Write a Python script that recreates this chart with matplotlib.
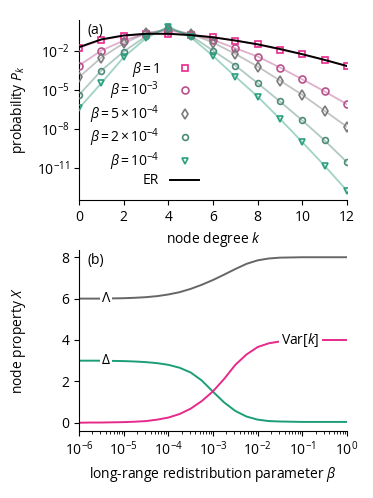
import numpy as np
import matplotlib
matplotlib.use('Agg')
import matplotlib.pyplot as plt
from matplotlib.ticker import FixedLocator, NullLocator, LogLocator

plt.rcParams['font.family'] = ['Open Sans', 'DejaVu Sans']
plt.rcParams['font.size'] = 10
plt.rcParams['mathtext.fontset'] = 'custom'
plt.rcParams['mathtext.rm'] = 'Open Sans'
plt.rcParams['mathtext.it'] = 'Open Sans:italic'
plt.rcParams['mathtext.bf'] = 'Open Sans:bold'

###########################################
# Panel (a): degree distributions, log10 of P_k
k = np.arange(13)
logp_b1 = [-1.78, -1.18, -0.86, -0.70, -0.72, -0.78, -0.96, -1.23, -1.53, -1.92, -2.30, -2.72, -3.20]
logp_b1e3 = [-3.15, -2.00, -1.23, -0.67, -0.46, -0.72, -1.18, -1.82, -2.46, -3.31, -4.21, -5.15, -6.13]
logp_b5e4 = [-4.05, -2.54, -1.44, -0.67, -0.36, -0.72, -1.38, -2.26, -3.23, -4.31, -5.41, -6.64, -7.87]
logp_b2e4 = [-5.41, -3.54, -2.08, -0.90, -0.26, -0.85, -2.00, -3.15, -4.51, -5.92, -7.38, -8.92, -10.59]
logp_b1e4 = [-6.44, -4.51, -2.51, -1.05, -0.15, -0.97, -2.41, -4.00, -5.54, -7.26, -9.05, -10.87, -12.79]
logp_er = [-1.74, -1.14, -0.84, -0.71, -0.71, -0.81, -0.98, -1.23, -1.52, -1.88, -2.28, -2.72, -3.19]

series_labels = [r'$\beta\,$=$\,$1', r'$\beta\,$=$\,$10$^{-3}$', r'$\beta\,$=$\,$5$\,$×$\,$10$^{-4}$',
                 r'$\beta\,$=$\,$2$\,$×$\,$10$^{-4}$', r'$\beta\,$=$\,$10$^{-4}$']
series_colors = ['#e7298a', '#b9508c', '#7a7a7a', '#4f8a78', '#2ba07f']
series_markers = ['s', 'o', 'd', 'o', 'v']
series_msize = [4.7, 5.0, 5.5, 4.2, 5.0]

###########################################
# Panel (b): node properties vs beta, read at quarter decades
log_beta = [-6, -5.75, -5.5, -5.25, -5, -4.75, -4.5, -4.25, -4, -3.75, -3.5, -3.25, -3,
            -2.75, -2.5, -2.25, -2, -1.75, -1.5, -1.25, -1, -0.75, -0.5, -0.25, 0]
lam = [6.0, 6.0, 6.0, 6.01, 6.02, 6.04, 6.07, 6.12, 6.20, 6.31, 6.47, 6.67, 6.90,
       7.16, 7.43, 7.68, 7.85, 7.94, 7.98, 7.99, 8.0, 8.0, 8.0, 8.0, 8.0]
delta = [3.0, 3.0, 3.0, 2.99, 2.98, 2.96, 2.93, 2.88, 2.80, 2.66, 2.43, 2.04, 1.50,
         0.98, 0.57, 0.30, 0.15, 0.08, 0.06, 0.05, 0.04, 0.04, 0.04, 0.04, 0.04]
var_k = [0.0, 0.01, 0.01, 0.02, 0.03, 0.05, 0.08, 0.15, 0.25, 0.42, 0.68, 1.05, 1.52,
         2.12, 2.80, 3.30, 3.66, 3.84, 3.93, 3.97, 3.99, 4.0, 4.0, 4.0, 4.0]

fig = plt.figure(figsize=(3.73, 4.98), dpi=100)
ax1 = fig.add_axes([0.2118, 0.5984, 0.7185, 0.3614])
ax2 = fig.add_axes([0.2118, 0.1345, 0.7185, 0.3635])

for ax in (ax1, ax2):
    ax.spines['top'].set_visible(False)
    ax.spines['right'].set_visible(False)

all_logp = [logp_b1, logp_b1e3, logp_b5e4, logp_b2e4, logp_b1e4]
handles = []
for lp, lab, col, mk, ms in zip(all_logp, series_labels, series_colors,
                                series_markers, series_msize):
    p = 10.0 ** np.array(lp)
    ax1.plot(k, p, '-', color=col, alpha=0.45, lw=1.3, zorder=2)
    h, = ax1.plot(k, p, ls='none', marker=mk, ms=ms, mfc='none', mec=col,
                  mew=1.2, label=lab, zorder=3)
    handles.append(h)
h_er, = ax1.plot(k, 10.0 ** np.array(logp_er), '-', color='black', lw=1.4,
                 label='ER', zorder=4)
handles.append(h_er)

ax1.set_yscale('log')
ax1.set_xlim(0, 12)
ax1.set_ylim(10 ** -13.5, 10 ** 0.35)
ax1.set_xticks(range(0, 13, 2))
ax1.yaxis.set_major_locator(FixedLocator([1e-2, 1e-5, 1e-8, 1e-11]))
ax1.yaxis.set_minor_locator(NullLocator())
ax1.set_xlabel(r'node degree $k$')
ax1.set_ylabel(r'probability $P_k$')
ax1.text(0.03, 0.985, '(a)', transform=ax1.transAxes, va='top', ha='left')
ax1.legend(handles=handles, loc='upper right', bbox_to_anchor=(0.475, 0.817),
           frameon=False, markerfirst=False, handlelength=2.1, labelspacing=0.06,
           borderpad=0, handletextpad=0.8)

beta = 10.0 ** np.array(log_beta)
ax2.plot(beta, lam, color='#666666', lw=1.4)
ax2.plot(beta, delta, color='#1b9e77', lw=1.4)
ax2.plot(beta, var_k, color='#e7298a', lw=1.4)
box = dict(fc='white', ec='none', pad=1.5)
ax2.text(4e-6, 6.0, 'Λ', ha='center', va='center', bbox=box)
ax2.text(4e-6, 3.0, 'Δ', ha='center', va='center', bbox=box)
ax2.text(0.09, 4.0, r'Var[$k$]', ha='center', va='center', bbox=box)

ax2.set_xscale('log')
ax2.set_xlim(1e-6, 1)
ax2.set_ylim(-0.4, 8.35)
ax2.set_yticks([0, 2, 4, 6, 8])
ax2.xaxis.set_major_locator(LogLocator(base=10, numticks=10))
ax2.xaxis.set_minor_locator(LogLocator(base=10, subs=np.arange(2, 10), numticks=10))
ax2.set_xlabel(r'long-range redistribution parameter $\beta$')
ax2.set_ylabel(r'node property $X$')
ax2.text(0.03, 0.985, '(b)', transform=ax2.transAxes, va='top', ha='left')

ax1.yaxis.set_label_coords(-0.19, 0.5)
ax2.yaxis.set_label_coords(-0.19, 0.5)

fig.savefig('out.png', dpi=100)
